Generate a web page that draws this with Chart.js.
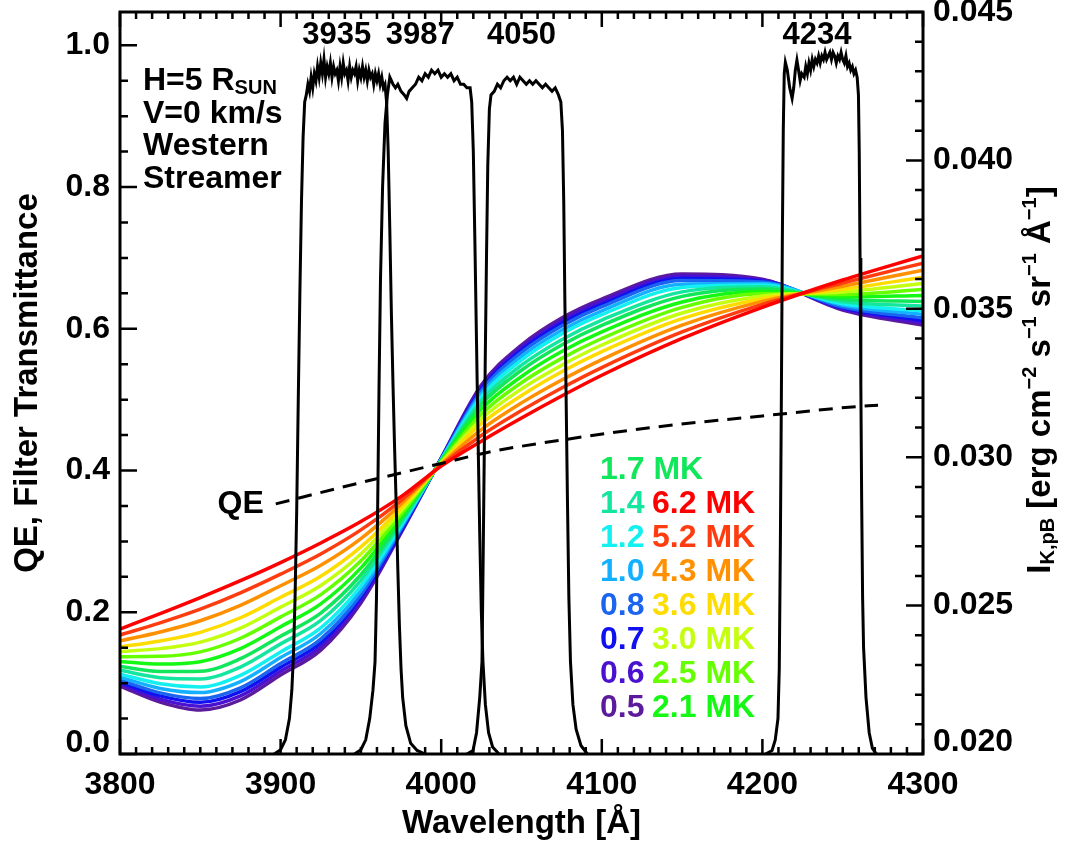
<!DOCTYPE html>
<html>
<head>
<meta charset="utf-8">
<script src="https://cdn.jsdelivr.net/npm/chart.js@4.4.1/dist/chart.umd.min.js"></script>
<style>
  html, body { margin: 0; padding: 0; background: #fff; }
  #wrap { position: relative; width: 1068px; height: 843px; }
</style>
</head>
<body>
<div id="wrap"><canvas id="chart"></canvas></div>
<script>
const FONT = "'Liberation Sans', Arial, Helvetica, sans-serif";

// axis ticks
const xTicks = [3800, 3900, 4000, 4100, 4200, 4300];
const yTicks = [0.0, 0.2, 0.4, 0.6, 0.8, 1.0];
const y2Ticks = [0.020, 0.025, 0.030, 0.035, 0.040, 0.045];

// filter transmittance curves (left axis)
const f3935Wave = [3896, 3900, 3903, 3905.5, 3907, 3908, 3909, 3910, 3911, 3912, 3913, 3914, 3915,
  3916, 3917, 3918, 3919, 3920, 3921, 3922, 3923, 3924, 3925, 3926, 3927, 3928, 3929, 3930,
  3931, 3932, 3933, 3934, 3935, 3936, 3937, 3938, 3939, 3940, 3941, 3942, 3943, 3944, 3945,
  3946, 3947, 3948, 3949, 3950, 3951, 3952, 3953, 3954, 3955, 3956, 3957, 3958, 3959, 3960,
  3961, 3962, 3963, 3964, 3965, 3966, 3967, 3968, 3969, 3970, 3971, 3972, 3973, 3974, 3975,
  3976, 3978, 3981, 3985, 3990];
const f3935Trans = [0, 0.006, 0.02, 0.05, 0.09, 0.14, 0.22, 0.34, 0.5, 0.65, 0.78, 0.87, 0.92,
  0.93, 0.945, 0.935, 0.955, 0.94, 0.96, 0.95, 0.97, 0.955, 0.975, 0.96, 0.98, 0.955, 0.97, 0.96,
  0.975, 0.955, 0.97, 0.96, 0.965, 0.95, 0.97, 0.955, 0.975, 0.96, 0.965, 0.95, 0.97, 0.955, 0.965,
  0.96, 0.97, 0.95, 0.965, 0.955, 0.97, 0.955, 0.965, 0.95, 0.965, 0.955, 0.96, 0.945, 0.96, 0.95,
  0.96, 0.945, 0.955, 0.94, 0.945, 0.92, 0.85, 0.74, 0.62, 0.52, 0.43, 0.35, 0.26, 0.18, 0.12,
  0.08, 0.04, 0.015, 0.005, 0];

const f3987Wave = [3946, 3950, 3953, 3955.5, 3957.5, 3958.8, 3959.7, 3960.5, 3961.3, 3962.2, 3963.5, 3965,
  3966.5, 3968, 3969, 3970, 3971.5, 3973, 3975, 3977, 3978.5, 3980, 3982, 3984, 3986, 3988, 3990,
  3992, 3994, 3996, 3998, 4000, 4002, 4004, 4006, 4008, 4010, 4012, 4014, 4016, 4018, 4019, 4020,
  4021, 4022, 4023, 4024, 4025, 4026, 4027.5, 4029.5, 4032, 4036];
const f3987Trans = [0, 0.006, 0.02, 0.05, 0.09, 0.13, 0.22, 0.36, 0.52, 0.67, 0.8, 0.89,
  0.93, 0.955, 0.95, 0.945, 0.94, 0.945, 0.935, 0.93, 0.925, 0.935, 0.94, 0.945, 0.955, 0.95, 0.96,
  0.955, 0.965, 0.96, 0.965, 0.955, 0.96, 0.955, 0.96, 0.95, 0.955, 0.945, 0.945, 0.94, 0.94, 0.92, 0.85,
  0.72, 0.58, 0.44, 0.31, 0.2, 0.13, 0.07, 0.03, 0.01, 0];

const f4050Wave = [4016, 4019.8, 4022, 4024, 4025.4, 4026, 4026.7, 4027.4, 4028.2, 4029, 4030, 4031,
  4033, 4035, 4037, 4039, 4041, 4043, 4045, 4047, 4049, 4051, 4053, 4055, 4057, 4059, 4061, 4063,
  4065, 4067, 4069, 4071, 4073, 4074.5, 4075.5, 4076.3, 4077, 4077.8, 4078.6, 4079.5, 4080.5, 4082,
  4084, 4087, 4091];
const f4050Trans = [0, 0.005, 0.03, 0.08, 0.13, 0.25, 0.4, 0.55, 0.7, 0.83, 0.91, 0.93,
  0.935, 0.945, 0.94, 0.95, 0.955, 0.95, 0.955, 0.945, 0.955, 0.95, 0.945, 0.95, 0.945, 0.95, 0.945, 0.94,
  0.945, 0.94, 0.935, 0.94, 0.93, 0.92, 0.88, 0.78, 0.64, 0.5, 0.36, 0.22, 0.13, 0.07,
  0.035, 0.012, 0];

const f4234Wave = [4202, 4206, 4208, 4209.7, 4210.5, 4211.2, 4211.8, 4212.4, 4213, 4213.6, 4214.3, 4215.5,
  4217, 4218.5, 4219.5, 4220.5, 4221.5, 4222.5, 4223.5, 4224.5, 4226, 4227, 4228, 4229, 4230, 4231,
  4232, 4233, 4234, 4235, 4236, 4237, 4238, 4239, 4240, 4241, 4242, 4243, 4244, 4245, 4246, 4247,
  4248, 4249, 4250, 4251, 4252, 4253, 4254, 4255, 4256, 4257, 4258, 4259, 4259.8, 4260.3, 4260.8,
  4261.3, 4261.8, 4262.4, 4263, 4264.5, 4266.5, 4268.5, 4271];
const f4234Trans = [0, 0.005, 0.02, 0.05, 0.12, 0.3, 0.5, 0.72, 0.88, 0.96, 0.976, 0.965,
  0.94, 0.925, 0.94, 0.965, 0.979, 0.965, 0.95, 0.96, 0.955, 0.97, 0.96, 0.975, 0.965, 0.98,
  0.97, 0.98, 0.975, 0.985, 0.975, 0.985, 0.98, 0.99, 0.98, 0.985, 0.99, 0.98, 0.99, 0.985, 0.975, 0.985,
  0.98, 0.99, 0.98, 0.975, 0.985, 0.97, 0.975, 0.965, 0.97, 0.96, 0.965, 0.955, 0.93, 0.85, 0.7,
  0.52, 0.36, 0.22, 0.15, 0.08, 0.03, 0.008, 0];

const filterLabels = ['3935', '3987', '4050', '4234'];
const filterCenters = [3935, 3987, 4050, 4234];

// detector quantum efficiency (left axis, dashed)
const qeWave = [3897, 3950, 4000, 4032, 4075, 4132, 4200, 4263, 4272];
const qeValue = [0.353, 0.383, 0.410, 0.427, 0.443, 0.461, 0.477, 0.491, 0.492];

// K-corona pB intensity for each temperature (right axis)
const waveGrid = [3800, 3825, 3850, 3875, 3900, 3925, 3950, 3975, 4000, 4025, 4050, 4075, 4100, 4150, 4200, 4250, 4300];
const iK62 = [0.02421, 0.02473, 0.02527, 0.02584, 0.02645, 0.02711, 0.02783, 0.02867, 0.02970, 0.03054, 0.03132, 0.03206, 0.03276, 0.03400, 0.03505, 0.03597, 0.03678];
const iK52 = [0.02401, 0.02442, 0.02488, 0.02543, 0.02606, 0.02674, 0.02755, 0.02854, 0.02973, 0.03073, 0.03157, 0.03233, 0.03302, 0.03422, 0.03515, 0.03587, 0.03654];
const iK43 = [0.02381, 0.02411, 0.02449, 0.02501, 0.02567, 0.02636, 0.02726, 0.02842, 0.02976, 0.03093, 0.03183, 0.03260, 0.03329, 0.03445, 0.03525, 0.03576, 0.03630];
const iK36 = [0.02361, 0.02381, 0.02410, 0.02459, 0.02528, 0.02599, 0.02698, 0.02829, 0.02978, 0.03113, 0.03208, 0.03288, 0.03356, 0.03467, 0.03534, 0.03566, 0.03606];
const iK30 = [0.02345, 0.02355, 0.02377, 0.02424, 0.02495, 0.02568, 0.02674, 0.02819, 0.02981, 0.03129, 0.03230, 0.03310, 0.03378, 0.03486, 0.03543, 0.03557, 0.03585];
const iK25 = [0.02328, 0.02329, 0.02344, 0.02390, 0.02462, 0.02537, 0.02651, 0.02808, 0.02983, 0.03145, 0.03251, 0.03333, 0.03400, 0.03505, 0.03551, 0.03548, 0.03565];
const iK21 = [0.02312, 0.02303, 0.02311, 0.02355, 0.02429, 0.02506, 0.02627, 0.02798, 0.02985, 0.03162, 0.03272, 0.03356, 0.03422, 0.03523, 0.03559, 0.03540, 0.03545];
const iK17 = [0.02295, 0.02278, 0.02279, 0.02321, 0.02397, 0.02475, 0.02604, 0.02787, 0.02988, 0.03178, 0.03293, 0.03378, 0.03444, 0.03542, 0.03567, 0.03531, 0.03525];
const iK14 = [0.02282, 0.02257, 0.02253, 0.02293, 0.02371, 0.02450, 0.02585, 0.02779, 0.02990, 0.03191, 0.03310, 0.03396, 0.03462, 0.03557, 0.03574, 0.03524, 0.03509];
const iK12 = [0.02269, 0.02237, 0.02226, 0.02265, 0.02344, 0.02425, 0.02566, 0.02770, 0.02991, 0.03204, 0.03327, 0.03415, 0.03480, 0.03572, 0.03580, 0.03517, 0.03493];
const iK10 = [0.02259, 0.02221, 0.02207, 0.02244, 0.02325, 0.02406, 0.02551, 0.02764, 0.02993, 0.03214, 0.03340, 0.03428, 0.03493, 0.03583, 0.03585, 0.03512, 0.03481];
const iK08 = [0.02249, 0.02206, 0.02187, 0.02223, 0.02305, 0.02387, 0.02537, 0.02758, 0.02994, 0.03224, 0.03353, 0.03442, 0.03507, 0.03595, 0.03590, 0.03506, 0.03469];
const iK07 = [0.02242, 0.02196, 0.02174, 0.02210, 0.02292, 0.02375, 0.02528, 0.02753, 0.02995, 0.03230, 0.03361, 0.03451, 0.03515, 0.03602, 0.03593, 0.03503, 0.03461];
const iK06 = [0.02236, 0.02185, 0.02161, 0.02196, 0.02279, 0.02362, 0.02518, 0.02749, 0.02996, 0.03237, 0.03370, 0.03460, 0.03524, 0.03610, 0.03597, 0.03499, 0.03453];
const iK05 = [0.02229, 0.02175, 0.02148, 0.02182, 0.02266, 0.02350, 0.02509, 0.02745, 0.02997, 0.03243, 0.03378, 0.03469, 0.03533, 0.03617, 0.03600, 0.03496, 0.03445];

const tempLabels = ['6.2', '5.2', '4.3', '3.6', '3.0', '2.5', '2.1', '1.7', '1.4', '1.2', '1.0', '0.8', '0.7', '0.6', '0.5'];
const tempSeries = [iK62, iK52, iK43, iK36, iK30, iK25, iK21, iK17, iK14, iK12, iK10, iK08, iK07, iK06, iK05];
const tempColors = ['#ff0000', '#ff3c10', '#ff9000', '#ffdc00', '#c4ff10', '#66ff00', '#14f814', '#12e65a',
  '#14e6a0', '#14f0f0', '#14b0ff', '#1a64f0', '#1010f0', '#4a12d0', '#5c1a9c'];

// text in the plot
const noteLines = [[['H=5 R', 0], ['SUN', 1]], [['V=0 km/s', 0]], [['Western', 0]], [['Streamer', 0]]];
const legendLeft = ['1.7', '1.4', '1.2', '1.0', '0.8', '0.7', '0.6', '0.5'];
const legendRight = ['', '6.2', '5.2', '4.3', '3.6', '3.0', '2.5', '2.1'];

function pts(xs, ys) { return xs.map((x, i) => ({ x, y: ys[i] })); }

const datasets = [];
[[f3935Wave, f3935Trans], [f3987Wave, f3987Trans], [f4050Wave, f4050Trans], [f4234Wave, f4234Trans]].forEach(([w, t]) => {
  datasets.push({ data: pts(w, t), yAxisID: 'y', borderColor: '#000', borderWidth: 3, pointRadius: 0, tension: 0 });
});
datasets.push({ data: pts(qeWave, qeValue), yAxisID: 'y', borderColor: '#000', borderWidth: 3, borderDash: [14, 9],
  pointRadius: 0, cubicInterpolationMode: 'monotone' });
tempSeries.forEach((s, i) => {
  datasets.push({ data: pts(waveGrid, s), yAxisID: 'y2', borderColor: tempColors[i], borderWidth: 3.5,
    pointRadius: 0, cubicInterpolationMode: 'monotone' });
});

function colorFor(label) { return tempColors[tempLabels.indexOf(label)]; }

function drawRich(ctx, parts, x, y, angle, size, align) {
  const small = Math.round(size * 0.62);
  const fontFor = k => `bold ${k ? small : size}px ${FONT}`;
  ctx.save();
  ctx.translate(x, y);
  ctx.rotate(angle);
  ctx.textAlign = 'left';
  ctx.textBaseline = 'alphabetic';
  let total = 0;
  parts.forEach(([t, k]) => { ctx.font = fontFor(k); total += ctx.measureText(t).width; });
  let cx = align === 'center' ? -total / 2 : 0;
  parts.forEach(([t, k]) => {
    ctx.font = fontFor(k);
    const dy = k === 1 ? size * 0.12 : k === 2 ? -size * 0.42 : 0;
    ctx.fillText(t, cx, dy);
    cx += ctx.measureText(t).width;
  });
  ctx.restore();
}

const frameTicks = {
  id: 'frameTicks',
  afterDatasetsDraw(chart) {
    const { ctx, chartArea: a, scales } = chart;
    ctx.save();
    ctx.strokeStyle = '#000';
    ctx.lineWidth = 2.5;
    ctx.beginPath();
    for (let k = 0; k <= 50; k++) {
      const px = scales.x.getPixelForValue(3800 + k * 10);
      const len = k % 10 === 0 ? 15 : 7;
      ctx.moveTo(px, a.bottom); ctx.lineTo(px, a.bottom - len);
      ctx.moveTo(px, a.top); ctx.lineTo(px, a.top + len);
    }
    for (let k = 0; k <= 20; k++) {
      const py = scales.y.getPixelForValue(k * 0.05);
      const len = k % 4 === 0 ? 17 : 8;
      ctx.moveTo(a.left, py); ctx.lineTo(a.left + len, py);
    }
    for (let k = 0; k <= 25; k++) {
      const py = scales.y2.getPixelForValue(0.020 + k * 0.001);
      const len = k % 5 === 0 ? 17 : 8;
      ctx.moveTo(a.right, py); ctx.lineTo(a.right - len, py);
    }
    ctx.stroke();
    ctx.lineWidth = 3;
    ctx.strokeRect(a.left, a.top, a.right - a.left, a.bottom - a.top);
    ctx.restore();
  },
  afterDraw(chart) {
    const { ctx, chartArea: a, scales } = chart;
    ctx.save();
    ctx.fillStyle = '#000';

    // lowest tick labels sit a little above the bottom axis, as in the original
    ctx.font = `bold 32px ${FONT}`;
    ctx.textBaseline = 'middle';
    ctx.textAlign = 'right';
    ctx.fillText(yTicks[0].toFixed(1), a.left - 10, a.bottom - 11);
    ctx.textAlign = 'left';
    ctx.fillText(y2Ticks[0].toFixed(3), a.right + 10, a.bottom - 12);

    // filter centre labels
    ctx.font = `bold 31px ${FONT}`;
    ctx.textAlign = 'center';
    filterLabels.forEach((t, i) => {
      ctx.fillText(t, scales.x.getPixelForValue(filterCenters[i]), scales.y.getPixelForValue(1.014));
    });

    // QE label at start of dashed curve
    ctx.font = `bold 32px ${FONT}`;
    ctx.textAlign = 'right';
    ctx.fillText('QE', scales.x.getPixelForValue(qeWave[0]) - 12, scales.y.getPixelForValue(qeValue[0]));

    // conditions block
    noteLines.forEach((parts, i) => {
      drawRich(ctx, parts, a.left + 23, 90 + i * 32.5, 0, 32, 'left');
    });

    // temperature legend
    ctx.font = `bold 32px ${FONT}`;
    ctx.textAlign = 'left';
    ctx.textBaseline = 'middle';
    legendLeft.forEach((t, i) => {
      const y = 470 + i * 34;
      ctx.fillStyle = colorFor(t);
      ctx.fillText(i === 0 ? t + ' MK' : t, 600, y);
      if (legendRight[i]) {
        ctx.fillStyle = colorFor(legendRight[i]);
        ctx.fillText(legendRight[i] + ' MK', 652, y);
      }
    });

    // axis titles
    ctx.fillStyle = '#000';
    drawRich(ctx, [['Wavelength [Å]', 0]], (a.left + a.right) / 2, 833, 0, 33, 'center');
    drawRich(ctx, [['QE, Filter Transmittance', 0]], 37, (a.top + a.bottom) / 2, -Math.PI / 2, 33, 'center');
    drawRich(ctx, [['I', 0], ['K,pB', 1], [' [erg cm', 0], ['−2', 2], [' s', 0], ['−1', 2], [' sr', 0], ['−1', 2],
      [' Å', 0], ['−1', 2], [']', 0]], 1050, 380, -Math.PI / 2, 33, 'center');
    ctx.restore();
  }
};

const tickFont = { family: FONT, size: 32, weight: 'bold' };

new Chart(document.getElementById('chart'), {
  type: 'line',
  data: { datasets },
  options: {
    responsive: true,
    maintainAspectRatio: false,
    animation: false,
    devicePixelRatio: 1,
    layout: { padding: { top: 12, left: 0, right: 0, bottom: 0 } },
    plugins: { legend: { display: false }, tooltip: { enabled: false } },
    scales: {
      x: {
        type: 'linear', position: 'bottom', min: 3800, max: 4300,
        grid: { display: false, drawTicks: false }, border: { display: false },
        afterBuildTicks: s => { s.ticks = xTicks.map(v => ({ value: v })); },
        afterFit: s => { s.height = 89; s.paddingLeft = 0; s.paddingRight = 0; },
        ticks: { font: { ...tickFont, lineHeight: 1.2 }, color: '#000', padding: 12, maxRotation: 0, autoSkip: false,
          callback: v => String(v) }
      },
      y: {
        type: 'linear', position: 'left', min: 0, max: 1.047,
        grid: { display: false, drawTicks: false }, border: { display: false },
        afterBuildTicks: s => { s.ticks = yTicks.map(v => ({ value: v })); },
        afterFit: s => { s.width = 120; s.paddingTop = 0; s.paddingBottom = 0; },
        ticks: { font: tickFont, color: '#000', padding: 10, callback: v => (v === yTicks[0] ? '' : Number(v).toFixed(1)) }
      },
      y2: {
        type: 'linear', position: 'right', min: 0.020, max: 0.045,
        grid: { display: false, drawTicks: false }, border: { display: false },
        afterBuildTicks: s => { s.ticks = y2Ticks.map(v => ({ value: v })); },
        afterFit: s => { s.width = 145; s.paddingTop = 0; s.paddingBottom = 0; },
        ticks: { font: tickFont, color: '#000', padding: 10, callback: v => (v === y2Ticks[0] ? '' : Number(v).toFixed(3)) }
      }
    }
  },
  plugins: [frameTicks]
});
</script>
</body>
</html>
